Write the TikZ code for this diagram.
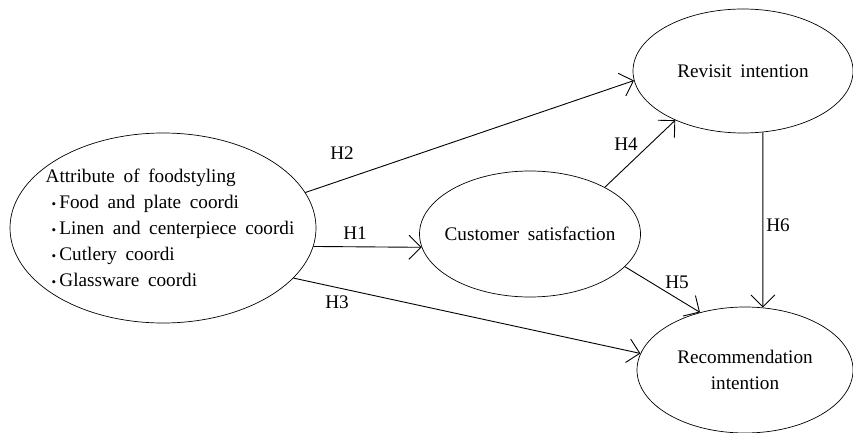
\documentclass[tikz,border=0pt]{standalone}
\usepackage{fontspec}
\setmainfont{Liberation Serif}[WordSpace=1.8]
\usetikzlibrary{shapes.geometric,arrows.meta}
\newcommand{\itemdot}{\hspace{6pt}{\fontsize{13}{26}\selectfont\textbullet}\,}
\tikzset{
  construct/.style={draw, ellipse, inner sep=0pt, line width=0.7pt},
  hyp/.style={-{Straight Barb[length=12pt,width=24pt]}, line width=0.9pt},
  txt/.style={font=\fontsize{19.2}{26}\selectfont, align=center, inner sep=0pt},
}
\begin{document}
\begin{tikzpicture}[x=1pt,y=-1pt]
  \useasboundingbox (0,0) rectangle (853,433);
  % constructs
  \node[construct, minimum width=306pt, minimum height=190pt,
    label={[txt, align=left, xshift=7pt]center:Attribute of foodstyling\\
      \itemdot Food and plate coordi\\
      \itemdot Linen and centerpiece coordi\\
      \itemdot Cutlery coordi\\
      \itemdot Glassware coordi}] (attr) at (163,228) {};
  \node[construct, minimum width=221pt, minimum height=126pt,
    label={[txt]center:Customer satisfaction}] (cs) at (530,234) {};
  \node[construct, minimum width=220pt, minimum height=124pt,
    label={[txt]center:Revisit intention}] (rev) at (743,71) {};
  \node[construct, minimum width=216pt, minimum height=126pt,
    label={[txt]center:Recommendation\\intention}] (rec) at (745,370) {};
  % hypotheses
  \draw[hyp] (attr.-7.5) -- (cs.187);
  \draw[hyp] (attr.14.5) -- (rev.185);
  \draw[hyp] (attr.-21.5) -- (rec.171.5);
  \draw[hyp] (cs.32) -- (rev.216);
  \draw[hyp] (cs.-19.5) -- (rec.128);
  \draw[hyp] (rev.-72.7) -- (rec.74.7);
  \node[txt] (h1) at (355,233) {H1};
  \node[txt] (h2) at (342,153) {H2};
  \node[txt] (h3) at (337,302) {H3};
  \node[txt] (h4) at (626,144) {H4};
  \node[txt] (h5) at (677,282) {H5};
  \node[txt] (h6) at (778,225) {H6};
\end{tikzpicture}
\end{document}
